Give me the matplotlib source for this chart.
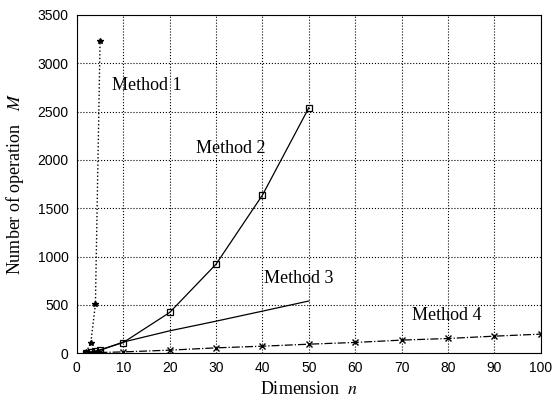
import matplotlib
matplotlib.use("Agg")
import matplotlib.pyplot as plt

# Data
n1 = [2, 3, 4, 5]
m1 = [10, 107, 507, 3230]

n2 = [2, 3, 4, 5, 10, 20, 30, 40, 50]
m2 = [5, 12, 22, 35, 110, 421, 921, 1636, 2540]

n3 = [2, 3, 4, 5, 10, 20, 30, 40, 50]
m3 = [5, 10, 18, 30, 115, 231, 331, 435, 540]

n4 = [2, 3, 4, 5, 10, 20, 30, 40, 50, 60, 70, 80, 90, 100]
m4 = [2, 3, 5, 7, 13, 31, 55, 72, 93, 111, 135, 152, 176, 197]

xticks = [0, 10, 20, 30, 40, 50, 60, 70, 80, 90, 100]
yticks = [0, 500, 1000, 1500, 2000, 2500, 3000, 3500]

plt.rcParams['mathtext.fontset'] = 'stix'
serif = ['Liberation Serif', 'DejaVu Serif']
tickfont = ['Liberation Sans Narrow', 'Liberation Sans', 'DejaVu Sans']

fig = plt.figure(figsize=(5.57, 4.05), dpi=100)
ax = fig.add_axes([0.138, 0.128, 0.833, 0.835])

ax.plot(n1, m1, linestyle=':', color='black', linewidth=1.0, marker='*', markersize=4)
ax.plot(n2, m2, linestyle='-', color='black', linewidth=0.9, marker='s', markersize=4,
        markerfacecolor='none', markeredgewidth=0.9)
ax.plot(n3, m3, linestyle='-', color='black', linewidth=0.9)
ax.plot(n4, m4, linestyle='-.', color='black', linewidth=0.9, marker='x', markersize=4)

ax.set_xlim(0, 100)
ax.set_ylim(0, 3500)
ax.set_xticks(xticks)
ax.set_yticks(yticks)
ax.grid(True, linestyle=':', color='black', linewidth=0.8)
ax.tick_params(direction='in', length=0, labelsize=10, pad=6)
for lab in ax.get_xticklabels() + ax.get_yticklabels():
    lab.set_family(tickfont)

ax.text(7.5, 2775, 'Method 1', fontsize=13, family=serif, va='center')
ax.text(25.7, 2122, 'Method 2', fontsize=13, family=serif, va='center')
ax.text(40.4, 776, 'Method 3', fontsize=13, family=serif, va='center')
ax.text(72.2, 393, 'Method 4', fontsize=13, family=serif, va='center')

ax.set_xlabel(r'Dimension  $\mathit{n}$', fontsize=13, family=serif, labelpad=4)
ax.set_ylabel(r'Number of operation   $\mathit{M}$', fontsize=13, family=serif, labelpad=8)

fig.savefig('out.png', dpi=100)
